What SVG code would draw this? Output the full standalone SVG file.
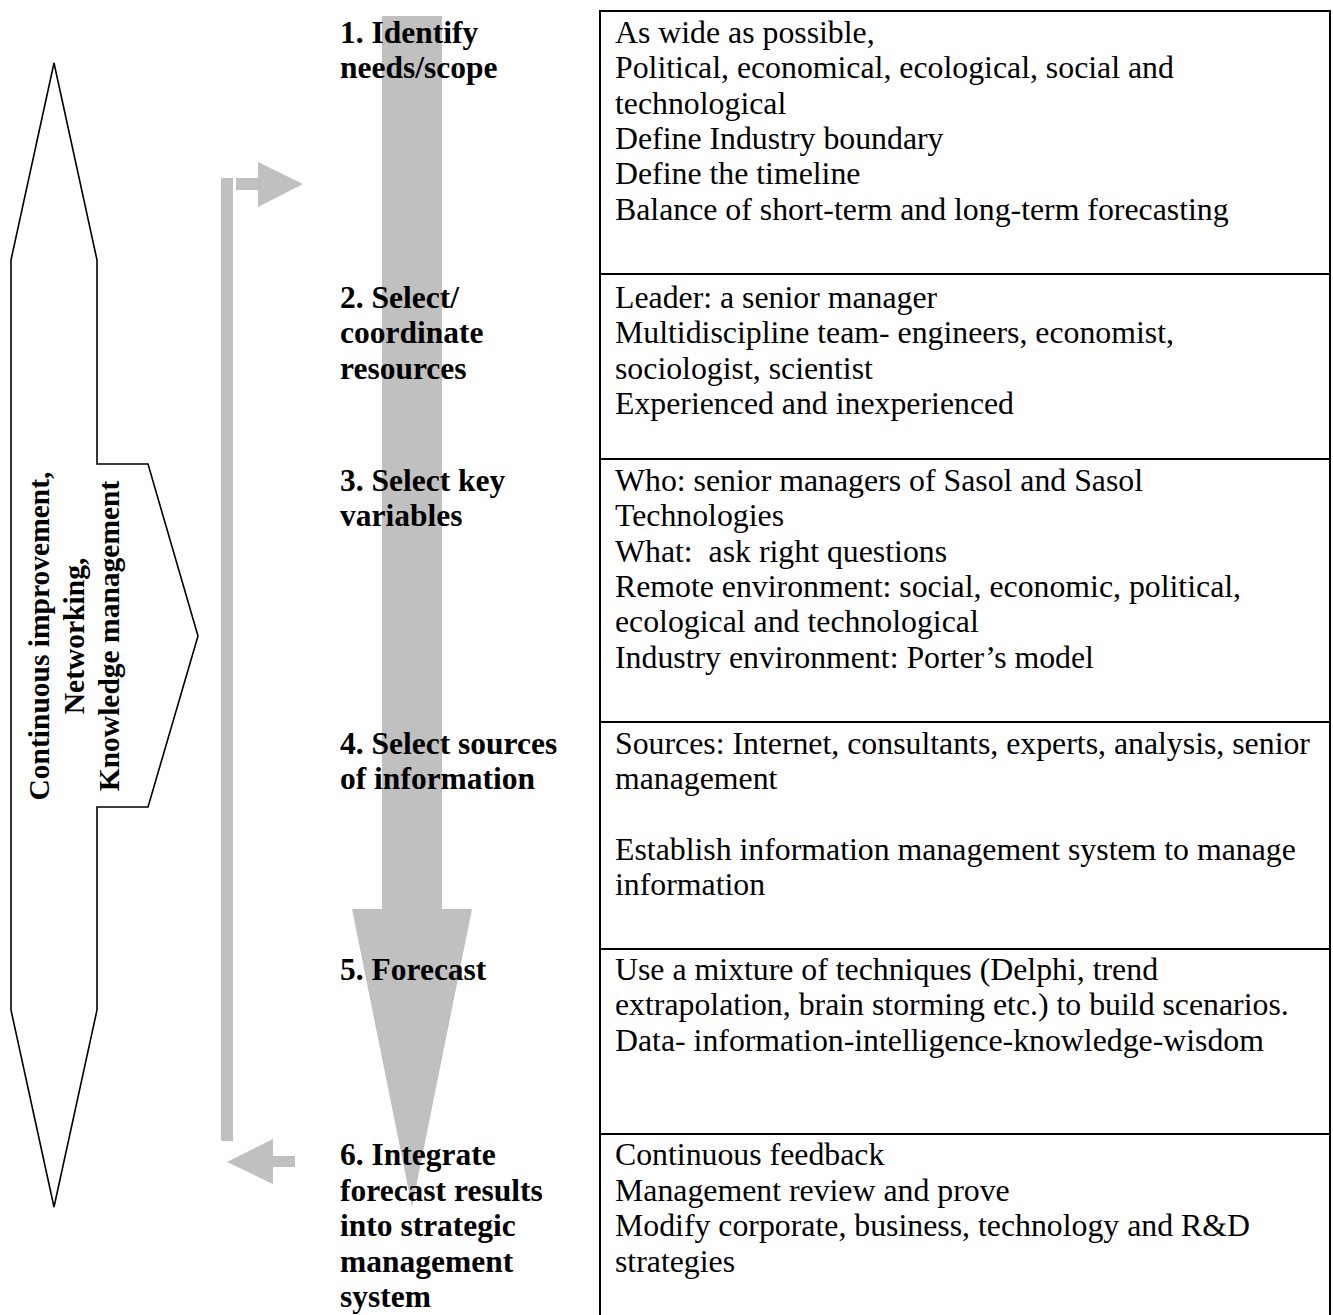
<svg xmlns="http://www.w3.org/2000/svg" width="1333" height="1315" viewBox="0 0 1333 1315">
  <style>
    .lbl { font-family: "Liberation Serif", "Times New Roman", serif; font-size: 31.5px; font-weight: bold; fill: #000; }
    .txt { font-family: "Liberation Serif", "Times New Roman", serif; font-size: 31.8px; fill: #000; }
    .side { font-family: "Liberation Serif", "Times New Roman", serif; font-size: 29.5px; font-weight: bold; fill: #000; }
    .grey { fill: #c0c0c0; stroke: none; }
    .cell { fill: none; stroke: #000; stroke-width: 2; }
    .outline { fill: #fff; stroke: #000; stroke-width: 1.6; stroke-linejoin: miter; }
  </style>
  <rect width="1333" height="1315" fill="#fff"/>

  <g id="side-arrow">
    <polygon class="outline" points="54,63 97,260 97,464 148,464 198,636 148,807 97,807 97,1010 54,1207 11,1010 11,260"/>
    <g transform="translate(0,636) rotate(-90)">
      <text class="side" x="0" y="49" text-anchor="middle">Continuous improvement,</text>
      <text class="side" x="0" y="84" text-anchor="middle">Networking,</text>
      <text class="side" x="0" y="119" text-anchor="middle">Knowledge management</text>
    </g>
  </g>

  <g id="connectors">
    <polygon id="main-flow" class="grey" points="382,16 442,16 442,909 472,909 412,1207 352,909 382,909"/>
    <g id="feedback">
      <rect class="grey" x="221" y="178" width="12" height="963"/>
      <rect class="grey" x="236" y="178" width="22" height="12"/>
      <polygon class="grey" points="258,162 303,184 258,207"/>
      <polygon class="grey" points="227,1162 273,1139 273,1184"/>
      <rect class="grey" x="273" y="1156" width="22" height="11"/>
    </g>
  </g>

  <g id="table-frame">
    <rect class="cell" x="600" y="11" width="730" height="1320"/>
    <line class="cell" x1="600" y1="274" x2="1330" y2="274"/>
    <line class="cell" x1="600" y1="459" x2="1330" y2="459"/>
    <line class="cell" x1="600" y1="722" x2="1330" y2="722"/>
    <line class="cell" x1="600" y1="949" x2="1330" y2="949"/>
    <line class="cell" x1="600" y1="1134" x2="1330" y2="1134"/>
  </g>

  <g id="step1">
    <text class="lbl" x="340" y="43">1. Identify</text>
    <text class="lbl" x="340" y="78.3">needs/scope</text>
    <text class="txt" x="615" y="43">As wide as possible,</text>
    <text class="txt" x="615" y="78.3">Political, economical, ecological, social and</text>
    <text class="txt" x="615" y="113.6">technological</text>
    <text class="txt" x="615" y="148.9">Define Industry boundary</text>
    <text class="txt" x="615" y="184.2">Define the timeline</text>
    <text class="txt" x="615" y="219.5">Balance of short-term and long-term forecasting</text>
  </g>

  <g id="step2">
    <text class="lbl" x="340" y="308">2. Select/</text>
    <text class="lbl" x="340" y="343.3">coordinate</text>
    <text class="lbl" x="340" y="378.6">resources</text>
    <text class="txt" x="615" y="308">Leader: a senior manager</text>
    <text class="txt" x="615" y="343.3">Multidiscipline team- engineers, economist,</text>
    <text class="txt" x="615" y="378.6">sociologist, scientist</text>
    <text class="txt" x="615" y="413.9">Experienced and inexperienced</text>
  </g>

  <g id="step3">
    <text class="lbl" x="340" y="491">3. Select key</text>
    <text class="lbl" x="340" y="526.3">variables</text>
    <text class="txt" x="615" y="491">Who: senior managers of Sasol and Sasol</text>
    <text class="txt" x="615" y="526.3">Technologies</text>
    <text class="txt" x="615" y="561.6" xml:space="preserve">What:  ask right questions</text>
    <text class="txt" x="615" y="596.9">Remote environment: social, economic, political,</text>
    <text class="txt" x="615" y="632.2">ecological and technological</text>
    <text class="txt" x="615" y="667.5">Industry environment: Porter’s model</text>
  </g>

  <g id="step4">
    <text class="lbl" x="340" y="754">4. Select sources</text>
    <text class="lbl" x="340" y="789.3">of information</text>
    <text class="txt" x="615" y="754">Sources: Internet, consultants, experts, analysis, senior</text>
    <text class="txt" x="615" y="789.3">management</text>
    <text class="txt" x="615" y="859.9">Establish information management system to manage</text>
    <text class="txt" x="615" y="895.2">information</text>
  </g>

  <g id="step5">
    <text class="lbl" x="340" y="980">5. Forecast</text>
    <text class="txt" x="615" y="980">Use a mixture of techniques (Delphi, trend</text>
    <text class="txt" x="615" y="1015.3">extrapolation, brain storming etc.) to build scenarios.</text>
    <text class="txt" x="615" y="1050.6">Data- information-intelligence-knowledge-wisdom</text>
  </g>

  <g id="step6">
    <text class="lbl" x="340" y="1165">6. Integrate</text>
    <text class="lbl" x="340" y="1200.5">forecast results</text>
    <text class="lbl" x="340" y="1236">into strategic</text>
    <text class="lbl" x="340" y="1271.5">management</text>
    <text class="lbl" x="340" y="1307">system</text>
    <text class="txt" x="615" y="1165">Continuous feedback</text>
    <text class="txt" x="615" y="1200.5">Management review and prove</text>
    <text class="txt" x="615" y="1236">Modify corporate, business, technology and R&amp;D</text>
    <text class="txt" x="615" y="1271.5">strategies</text>
  </g>
</svg>
